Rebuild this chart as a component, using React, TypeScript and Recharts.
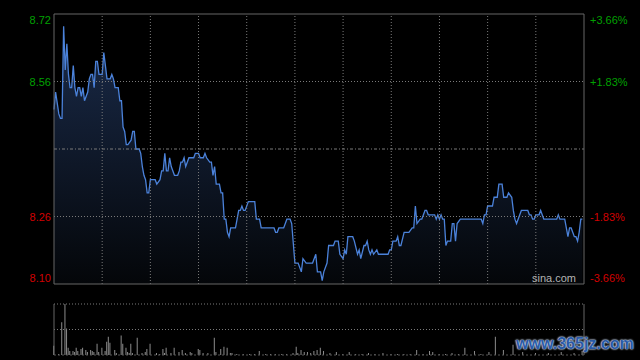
import React from 'react';
import { ComposedChart, Area, Line, Bar, XAxis, YAxis, ReferenceLine } from 'recharts';

// HK session: 330 trading minutes, prev close 8.41
const PREV_CLOSE = 8.41;
const RANGE_PCT = 0.0366;
const SESSION_MINUTES = 330;

const minutes = [
  0, 1, 3, 4, 5, 6, 7, 8, 9, 10, 11, 12, 13, 14, 15, 16, 17, 18, 19, 21, 22, 23, 24, 25, 26, 27, 28, 30,
  31, 32, 33, 35, 36, 37, 38, 40, 41, 42, 43, 44, 45, 46, 48, 49, 50, 51, 53, 54, 55, 56, 57, 58, 59, 60,
  63, 64, 66, 67, 68, 69, 70, 71, 72, 73, 75, 77, 78, 79, 80, 81, 82, 84, 87, 88, 90, 91, 93, 94, 95, 97,
  98, 99, 100, 101, 103, 104, 105, 106, 107, 108, 109, 110, 113, 115, 116, 117, 118, 119, 121, 125, 126,
  128, 129, 137, 138, 139, 140, 143, 145, 147, 148, 150, 152, 154, 155, 157, 161, 163, 164, 165, 166, 167,
  168, 170, 171, 172, 174, 175, 177, 178, 180, 181, 182, 183, 186, 187, 189, 190, 191, 193, 194, 195, 196,
  197, 198, 199, 201, 202, 208, 209, 210, 211, 213, 214, 215, 216, 218, 221, 223, 224, 225, 226, 228, 229,
  231, 232, 233, 237, 238, 239, 240, 241, 242, 243, 244, 245, 247, 248, 249, 250, 251, 253, 266, 267, 268,
  269, 270, 273, 274, 276, 277, 279, 280, 282, 283, 285, 286, 287, 288, 290, 291, 295, 296, 297, 298, 299,
  300, 302, 303, 305, 306, 313, 314, 315, 318, 320, 321, 322, 324, 325, 326, 327, 328, 329,
];

const prices = [
  8.5, 8.54, 8.49, 8.48, 8.48, 8.69, 8.59, 8.65, 8.58, 8.55, 8.55, 8.6, 8.55, 8.53, 8.55, 8.55, 8.53, 8.55, 8.52, 8.54, 8.57, 8.58, 8.58, 8.55, 8.61, 8.61, 8.58, 8.58,
  8.63, 8.6, 8.57, 8.57, 8.58, 8.57, 8.55, 8.55, 8.52, 8.52, 8.46, 8.45, 8.42, 8.42, 8.43, 8.45, 8.45, 8.41, 8.41, 8.4, 8.37, 8.35, 8.34, 8.31, 8.31, 8.34,
  8.34, 8.33, 8.34, 8.36, 8.36, 8.4, 8.36, 8.36, 8.39, 8.37, 8.35, 8.35, 8.36, 8.38, 8.38, 8.39, 8.37, 8.39, 8.39, 8.4, 8.4, 8.39, 8.39, 8.4, 8.39, 8.38,
  8.38, 8.35, 8.37, 8.33, 8.33, 8.31, 8.31, 8.25, 8.25, 8.22, 8.21, 8.23, 8.23, 8.27, 8.27, 8.28, 8.27, 8.27, 8.29, 8.29, 8.25,
  8.25, 8.23, 8.23, 8.22, 8.22, 8.23, 8.23, 8.25, 8.25, 8.24, 8.15, 8.15, 8.13, 8.16, 8.15, 8.15, 8.17, 8.13, 8.13, 8.13, 8.11,
  8.13, 8.15, 8.19, 8.19, 8.19, 8.2, 8.2, 8.17, 8.16, 8.18, 8.17, 8.21, 8.21, 8.2, 8.17, 8.18, 8.16, 8.19, 8.19, 8.2, 8.18,
  8.17, 8.18, 8.17, 8.18, 8.17, 8.17, 8.18, 8.18, 8.2, 8.2, 8.21, 8.19, 8.19, 8.22, 8.22, 8.23, 8.23, 8.28, 8.24, 8.25, 8.25,
  8.27, 8.27, 8.26, 8.26, 8.25, 8.26, 8.25, 8.26, 8.25, 8.25, 8.19, 8.2, 8.2, 8.24, 8.24, 8.2, 8.24, 8.25, 8.25, 8.24, 8.26,
  8.26, 8.28, 8.28, 8.3, 8.3, 8.33, 8.33, 8.3, 8.3, 8.31, 8.3, 8.27, 8.25, 8.24, 8.26, 8.27, 8.27, 8.26, 8.26, 8.25, 8.25,
  8.26, 8.26, 8.27, 8.25, 8.25, 8.25, 8.26, 8.25, 8.25, 8.21, 8.23, 8.23, 8.21, 8.21, 8.2, 8.22, 8.25, 8.25,
];

const volMinutes = [
  0, 3, 5, 7, 8, 9, 10, 12, 13, 14, 15, 17, 18, 20, 21, 23, 24, 25, 27, 28, 30, 32, 33, 34, 35, 38, 39, 42,
  43, 45, 46, 47, 48, 49, 52, 55, 57, 58, 60, 64, 66, 68, 69, 70, 73, 75, 78, 80, 82, 85, 86, 90, 91, 93,
  96, 100, 101, 104, 106, 108, 110, 111, 114, 118, 122, 125, 128, 132, 135, 138, 142, 145, 149, 151, 152,
  154, 156, 158, 160, 162, 164, 166, 168, 172, 176, 180, 184, 188, 192, 196, 200, 205, 210, 214, 218, 222,
  226, 230, 234, 236, 240, 244, 248, 252, 256, 262, 266, 271, 275, 280, 286, 292, 300, 308, 316, 324, 329,
];

const volumes = [
  90, 10, 320, 500, 260, 70, 40, 40, 30, 70, 40, 60, 70, 50, 30, 50, 40, 30, 110, 30, 70, 40, 130, 180, 120, 50, 20, 190,
  110, 70, 30, 20, 110, 20, 170, 20, 30, 60, 110, 20, 10, 60, 20, 70, 20, 70, 30, 50, 20, 30, 20, 60, 50, 20,
  20, 170, 30, 60, 80, 70, 20, 20, 10, 10, 10, 10, 40, 10, 10, 10, 10, 10, 20, 80, 20,
  50, 30, 30, 20, 40, 50, 70, 40, 20, 30, 10, 30, 10, 10, 20, 10, 20, 10, 10, 10, 10,
  50, 10, 40, 30, 10, 10, 20, 10, 70, 40, 10, 30, 180, 50, 100, 30, 20, 20, 30, 20, 40,
];

const timeTicks = [30, 60, 90, 120, 150, 180, 210, 240, 270, 300];

const lo = PREV_CLOSE * (1 - RANGE_PCT);
const hi = PREV_CLOSE * (1 + RANGE_PCT);
const priceTicks = [hi, PREV_CLOSE * (1 + RANGE_PCT / 2), PREV_CLOSE * (1 - RANGE_PCT / 2), lo];

const priceData = minutes.map((t, i) => ({ t, price: prices[i] }));
const volData = volMinutes.map((t, i) => ({ t, vol: volumes[i] }));

const FONT = '"Liberation Sans", Arial, sans-serif';
const GRID = '#7a7a7a';
const BORDER = '#666';

const PriceTick = (props: any) => {
  const { x, y, payload, side } = props;
  const v = payload.value;
  const up = v > PREV_CLOSE;
  let dy = 0;
  if (Math.abs(v - hi) < 1e-9) dy = 6;
  if (Math.abs(v - lo) < 1e-9) dy = -6;
  const pct = ((v - PREV_CLOSE) / PREV_CLOSE) * 100;
  const label = side === 'left' ? v.toFixed(2) : `${up ? '+' : ''}${pct.toFixed(2)}%`;
  return (
    <text
      x={x}
      y={y + dy}
      dy={4}
      textAnchor={side === 'left' ? 'end' : 'start'}
      fill={up ? '#00a000' : '#d20000'}
      fontSize={11}
      fontFamily={FONT}
    >
      {label}
    </text>
  );
};

export default function App() {
  return (
    <div
      style={{
        position: 'fixed',
        left: 0,
        top: 0,
        width: 640,
        height: 360,
        background: '#000',
        overflow: 'hidden',
        fontFamily: FONT,
      }}
    >
      <div style={{ position: 'absolute', left: 0, top: 0 }}>
        <ComposedChart width={640} height={300} data={priceData} margin={{ top: 14, right: 0, bottom: 16, left: 0 }}>
          <defs>
            <linearGradient id="priceFill" x1="0" y1="0" x2="0" y2="1">
              <stop offset="0%" stopColor="#1a2b4a" />
              <stop offset="100%" stopColor="#040609" />
            </linearGradient>
          </defs>
          <XAxis dataKey="t" type="number" domain={[0, SESSION_MINUTES]} hide />
          <YAxis
            yAxisId="p"
            orientation="left"
            width={54}
            domain={[lo, hi]}
            ticks={priceTicks}
            interval={0}
            axisLine={false}
            tickLine={false}
            tickSize={0}
            tickMargin={3}
            tick={(p: any) => <PriceTick {...p} side="left" />}
          />
          <YAxis
            yAxisId="r"
            orientation="right"
            width={56}
            domain={[lo, hi]}
            ticks={priceTicks}
            interval={0}
            axisLine={false}
            tickLine={false}
            tickSize={0}
            tickMargin={6}
            tick={(p: any) => <PriceTick {...p} side="right" />}
          />
          {timeTicks.map((t) => (
            <ReferenceLine key={t} yAxisId="p" x={t} stroke={GRID} strokeDasharray="1 2" />
          ))}
          <ReferenceLine yAxisId="p" y={priceTicks[1]} stroke={GRID} strokeDasharray="1 2" />
          <ReferenceLine yAxisId="p" y={priceTicks[2]} stroke={GRID} strokeDasharray="1 2" />
          <ReferenceLine yAxisId="p" y={PREV_CLOSE} stroke={GRID} strokeDasharray="3 2 1 2" />
          <Area
            yAxisId="p"
            type="linear"
            dataKey="price"
            stroke="#4b82da"
            strokeWidth={1.3}
            fill="url(#priceFill)"
            fillOpacity={1}
            baseValue="dataMin"
            dot={false}
            activeDot={false}
            isAnimationActive={false}
          />
          {/* invisible twin so the percent axis gets drawn */}
          <Line
            yAxisId="r"
            type="linear"
            dataKey="price"
            stroke="none"
            dot={false}
            activeDot={false}
            isAnimationActive={false}
          />
          <ReferenceLine yAxisId="p" y={hi} stroke={BORDER} />
          <ReferenceLine yAxisId="p" y={lo} stroke={BORDER} />
          <ReferenceLine yAxisId="p" x={0} stroke={BORDER} />
          <ReferenceLine yAxisId="p" x={SESSION_MINUTES} stroke={BORDER} />
        </ComposedChart>
      </div>
      <div style={{ position: 'absolute', left: 532, top: 272, fontSize: 11, color: '#b4b4b4' }}>sina.com</div>
      <div style={{ position: 'absolute', left: 0, top: 300 }}>
        <ComposedChart width={640} height={60} data={volData} margin={{ top: 4, right: 56, bottom: 5, left: 54 }}>
          <XAxis dataKey="t" type="number" domain={[0, SESSION_MINUTES]} hide />
          <YAxis domain={[0, 500]} hide />
          <ReferenceLine y={500} stroke={GRID} strokeDasharray="1 2" />
          <ReferenceLine y={250} stroke={GRID} strokeDasharray="1 2" />
          <ReferenceLine y={0} stroke="#555" strokeDasharray="2 2" />
          <Bar dataKey="vol" barSize={1} fill="#8c8c8c" isAnimationActive={false} />
          <ReferenceLine x={0} stroke={BORDER} />
          <ReferenceLine x={SESSION_MINUTES} stroke={BORDER} />
        </ComposedChart>
      </div>
      <div
        style={{
          position: 'absolute',
          left: 516,
          top: 335,
          fontSize: 16,
          fontWeight: 'bold',
          color: '#2a5aa6',
          textShadow: '0 0 2px #c8d8ee, 0 0 2px #c8d8ee, 0 0 1px #c8d8ee',
        }}
      >
        www.365jz.com
      </div>
    </div>
  );
}
